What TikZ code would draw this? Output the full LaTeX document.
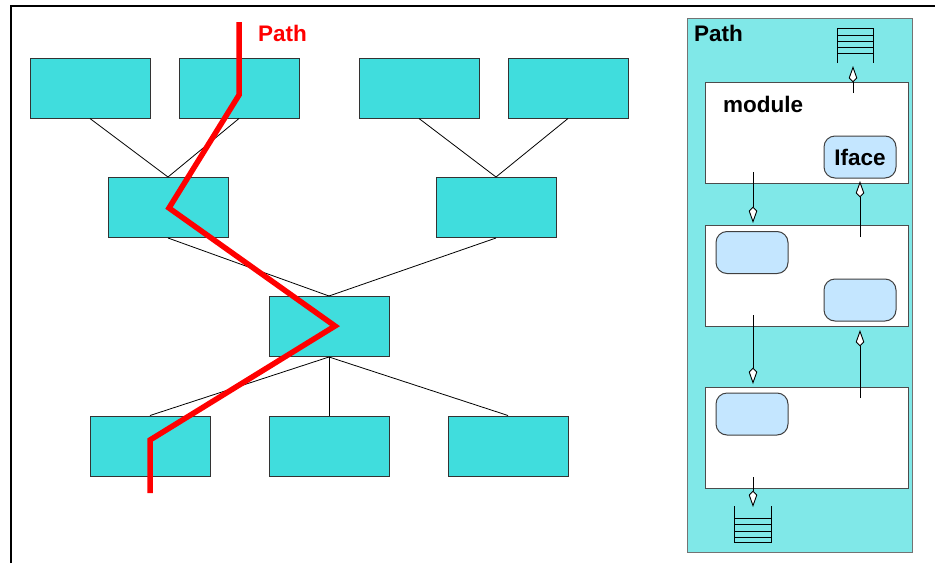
\documentclass[tikz,border=0pt]{standalone}
\usepackage{fontspec}
\setmainfont{Liberation Sans}
\usetikzlibrary{arrows.meta}
\definecolor{boxcyan}{RGB}{64,221,221}
\definecolor{panelcyan}{RGB}{128,232,232}
\definecolor{ifaceblue}{RGB}{196,230,255}
\definecolor{pathred}{RGB}{255,0,0}
\tikzset{
  cbox/.style={draw=black!80, fill=boxcyan, line width=1pt, minimum width=120pt, minimum height=60pt, inner sep=0pt},
  link/.style={draw=black, line width=0.8pt},
  modbox/.style={draw=black!70, fill=white, line width=1pt, minimum width=203pt, minimum height=101pt, inner sep=0pt},
  ifbox/.style={draw=black!75, fill=ifaceblue, line width=1pt, rounded corners=11pt, minimum width=72pt, minimum height=42pt, inner sep=0pt},
  flow/.style={draw=black, line width=0.9pt, -{Kite[length=16.5pt, width=8.5pt, inset=4.5pt, fill=white]}},
  bigtext/.style={font=\fontsize{22.5}{26}\selectfont\bfseries, inner sep=0pt},
}
\begin{document}
\begin{tikzpicture}[x=1pt, y=-1pt]
\useasboundingbox (0,0) rectangle (935,563);
% outer frame
\draw[line width=2.5pt] (11,563) -- (11,6) -- (935,6);

% tree of nodes
\node[cbox] (a1) at (90,88) {};
\node[cbox] (a2) at (239,88) {};
\node[cbox] (a3) at (419,88) {};
\node[cbox] (a4) at (568,88) {};
\node[cbox] (b1) at (168,207.5) {};
\node[cbox] (b2) at (496,207.5) {};
\node[cbox] (c1) at (329,326.5) {};
\node[cbox] (d1) at (150,446) {};
\node[cbox] (d2) at (329,446) {};
\node[cbox] (d3) at (508,446) {};

\draw[link] (a1.south) -- (b1.north);
\draw[link] (a2.south) -- (b1.north);
\draw[link] (a3.south) -- (b2.north);
\draw[link] (a4.south) -- (b2.north);
\draw[link] (b1.south) -- (c1.north);
\draw[link] (b2.south) -- (c1.north);
\draw[link] (c1.south) -- (d1.north);
\draw[link] (c1.south) -- (d2.north);
\draw[link] (c1.south) -- (d3.north);

% highlighted path through the tree
\coordinate (p0) at (239,22);
\coordinate (p1) at (239,95);
\coordinate (p2) at (169,208);
\coordinate (p3) at (335,326);
\coordinate (p4) at (150,440);
\coordinate (p5) at (150,493);
\draw[pathred, line width=5.5pt, line join=miter] (p0) -- (p1) -- (p2) -- (p3) -- (p4) -- (p5);
\node[bigtext, text=pathred, anchor=base west] (lpath) at (258,41) {Path};

% path panel
\node[draw=black!55, fill=panelcyan, line width=1pt, minimum width=225pt, minimum height=534pt, inner sep=0pt] (panel) at (799.5,285) {};
\node[bigtext, anchor=base west] (rpath) at (694,41) {Path};

% queues
\draw[line width=0.9pt] (837,63) -- (837,28) -- (873,28) -- (873,63);
\foreach \yy in {35,41,47,53} \draw[line width=0.9pt] (837,\yy) -- (873,\yy);
\draw[line width=0.9pt] (734,506) -- (734,542) -- (771,542) -- (771,506);
\foreach \yy in {518,524,531,537} \draw[line width=0.9pt] (734,\yy) -- (771,\yy);

% modules
\node[modbox] (m1) at (806.5,132.5) {};
\node[modbox] (m2) at (806.5,276) {};
\node[modbox] (m3) at (806.5,437.5) {};
\node[bigtext, anchor=base west] (mtext) at (723,112) {module};
\node[ifbox, bigtext, minimum width=72pt, minimum height=42pt] (if1) at (860,157) {Iface};
\node[ifbox] (if2) at (752,252.5) {};
\node[ifbox] (if3) at (860,300) {};
\node[ifbox] (if4) at (752,414) {};

% data flow between modules
\coordinate (s1) at (753,172);  \coordinate (t1) at (753,223);
\coordinate (s2) at (753,315);  \coordinate (t2) at (753,384);
\coordinate (s3) at (753,477);  \coordinate (t3) at (753,507);
\coordinate (u0) at (853,93);   \coordinate (v0) at (853,66);
\coordinate (u1) at (860,237);  \coordinate (v1) at (860,181);
\coordinate (u2) at (860,398);  \coordinate (v2) at (860,330);
\draw[flow] (s1) -- (t1);
\draw[flow] (s2) -- (t2);
\draw[flow] (s3) -- (t3);
\draw[flow] (u0) -- (v0);
\draw[flow] (u1) -- (v1);
\draw[flow] (u2) -- (v2);
\end{tikzpicture}
\end{document}
